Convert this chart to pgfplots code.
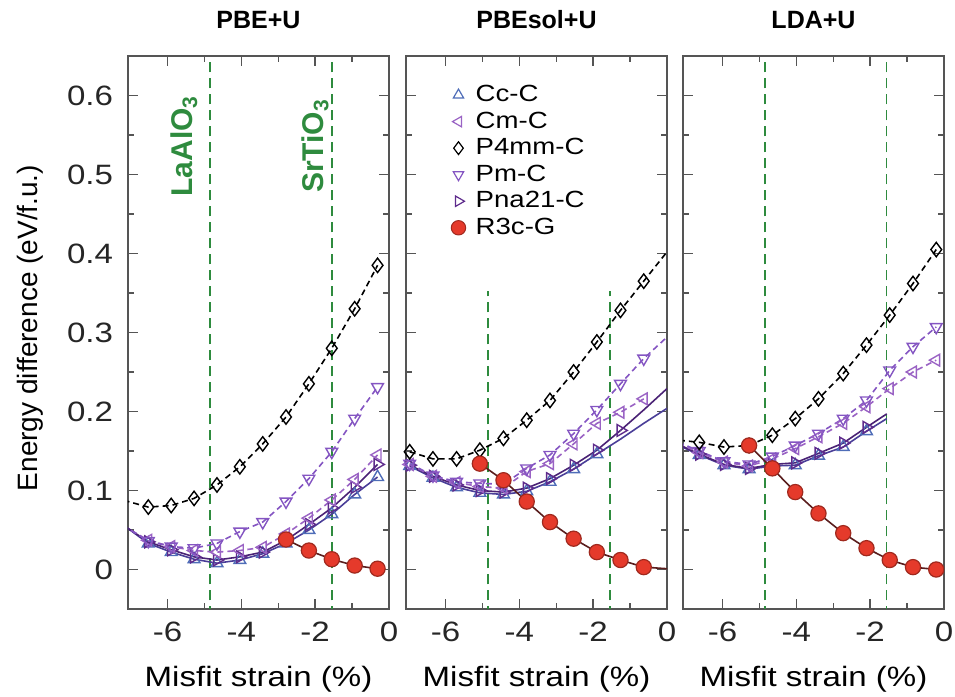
\documentclass[border=0pt]{standalone}
\usepackage{fontspec}
\setmainfont[FakeStretch=1.18]{Liberation Sans}
\newfontfamily\plainsans{Liberation Sans}
\usepackage{pgfplots}
\pgfplotsset{compat=1.18}

\definecolor{frame}{HTML}{555555}
\definecolor{ccblue}{HTML}{4F6DB8}
\definecolor{ccline}{HTML}{4A3E98}
\definecolor{cmpurp}{HTML}{9A63C4}
\definecolor{pmpurp}{HTML}{8455C2}
\definecolor{pnapurp}{HTML}{5E2B8C}
\definecolor{linepurp}{HTML}{4A2275}
\definecolor{r3cred}{HTML}{E53A2B}
\definecolor{r3cline}{HTML}{5A1E1E}
\definecolor{subgreen}{HTML}{2E8B3E}

\pgfplotsset{
  panel/.style={
    width=130.5pt, height=276.5pt, scale only axis,
    xmin=-7.07, xmax=0, ymin=-0.05, ymax=0.65,
    xtick={-6,-4,-2,0}, minor x tick num=1,
    ytick={0,0.1,0.2,0.3,0.4,0.5,0.6}, minor y tick num=1,
    tick align=inside, major tick length=5pt, minor tick length=3pt,
    axis line style={frame, line width=0.9pt},
    every tick/.style={frame, line width=0.7pt},
    tick label style={font=\fontsize{14}{16}\selectfont, text=black!85},
    /pgf/number format/assume math mode=true,
    xticklabel style={yshift=-3pt},
    yticklabel style={xshift=-4pt},
    xlabel={Misfit strain (\%)},
    xlabel style={at={(axis description cs:0.5,0)}, anchor=base, yshift=-39pt,
                  font=\fontsize{14}{16}\selectfont},
    title style={at={(axis description cs:0.5,1)}, anchor=base, yshift=8pt,
                 font=\plainsans\fontsize{12.5}{14}\selectfont\bfseries},
  },
  cc/.style={ccline, line width=0.8pt, mark=triangle, mark size=3.4pt,
             mark options={solid, fill=white, draw=ccblue, line width=0.7pt}},
  cm/.style={cmpurp, line width=0.8pt, dash pattern=on 3pt off 2pt, mark=triangle, mark size=3.4pt,
             mark options={solid, rotate=90, fill=white, draw=cmpurp, line width=0.7pt}},
  pm/.style={pmpurp, line width=0.8pt, dash pattern=on 3pt off 2pt, mark=triangle, mark size=3.4pt,
             mark options={solid, rotate=180, fill=white, draw=pmpurp, line width=0.7pt}},
  pna/.style={linepurp, line width=0.8pt, mark=triangle, mark size=3.4pt,
              mark options={solid, rotate=-90, fill=white, draw=pnapurp, line width=0.7pt}},
  p4/.style={black, line width=0.8pt, dash pattern=on 3pt off 2pt, mark=diamond, mark size=3.6pt,
             mark options={solid, fill=white, draw=black, line width=0.7pt}},
  r3c/.style={r3cline, line width=0.8pt, mark=*, mark size=3.8pt,
              mark options={solid, fill=r3cred, draw=r3cred!70!black, line width=0.6pt}},
  subline/.style={subgreen, line width=0.9pt, dash pattern=on 5pt off 3pt, forget plot},
}

\begin{document}
\begin{tikzpicture}
\useasboundingbox (0,0) rectangle (477.5pt,-348.5pt);

% ---------------- PBE+U ----------------
% first points lie left of xmin: only the line to the frame shows
\begin{axis}[panel, at={(64pt,-28pt)}, anchor=north west,
  title={PBE+U},
  ylabel={Energy difference (eV/f.u.)},
  ylabel style={at={(axis description cs:-0.345,0.508)}, anchor=base,
                font=\plainsans\fontsize{14}{16}\selectfont}]
\addplot[subline] coordinates {(-4.84,-0.1) (-4.84,0.7)};
\addplot[subline] coordinates {(-1.54,-0.1) (-1.54,0.7)};
\node[rotate=90, text=subgreen, font=\plainsans\fontsize{15}{17}\selectfont\bfseries]
  at (axis cs:-5.55,0.536) {LaAlO\textsubscript{3}};
\node[rotate=90, text=subgreen, font=\plainsans\fontsize{15}{17}\selectfont\bfseries]
  at (axis cs:-2.0,0.536) {SrTiO\textsubscript{3}};
\addplot[cc] coordinates {
  (-7.45,0.065) (-6.52,0.033) (-5.90,0.022) (-5.28,0.013) (-4.66,0.008) (-4.04,0.012)
  (-3.42,0.020) (-2.79,0.033) (-2.17,0.050) (-1.55,0.070) (-0.93,0.095) (-0.31,0.117)};
\addplot[pna] coordinates {
  (-7.45,0.064) (-6.52,0.035) (-5.90,0.025) (-5.28,0.016) (-4.66,0.012) (-4.04,0.016)
  (-3.42,0.022) (-2.79,0.037) (-2.17,0.057) (-1.55,0.078) (-0.93,0.104) (-0.31,0.133)};
\addplot[cm] coordinates {
  (-7.45,0.062) (-6.52,0.037) (-5.90,0.029) (-5.28,0.024) (-4.66,0.022) (-4.04,0.024)
  (-3.42,0.028) (-2.79,0.045) (-2.17,0.065) (-1.55,0.088) (-0.93,0.114) (-0.31,0.145)};
\addplot[pm] coordinates {
  (-7.45,0.063) (-6.52,0.036) (-5.90,0.029) (-5.28,0.027) (-4.66,0.033) (-4.04,0.048)
  (-3.42,0.060) (-2.79,0.086) (-2.17,0.115) (-1.55,0.149) (-0.93,0.191) (-0.31,0.231)};
\addplot[p4] coordinates {
  (-7.45,0.091) (-6.52,0.079) (-5.90,0.081) (-5.28,0.090) (-4.66,0.107) (-4.04,0.130)
  (-3.42,0.159) (-2.79,0.193) (-2.17,0.235) (-1.55,0.280) (-0.93,0.330) (-0.31,0.385)};
\addplot[r3c] coordinates {
  (-2.79,0.038) (-2.17,0.024) (-1.55,0.013) (-0.93,0.005) (-0.31,0.001)};
\end{axis}

% ---------------- PBEsol+U ----------------
\begin{axis}[panel, at={(203pt,-28pt)}, anchor=north west,
  title={PBEsol+U}, yticklabels={},
  legend style={at={(axis description cs:0.149,0.962)}, anchor=north west,
    draw=none, fill=none, font=\fontsize{11.7}{13.5}\selectfont,
    row sep=-0.4pt, cells={anchor=west},
    /tikz/every odd column/.append style={column sep=3pt}}]
\addlegendimage{only marks, mark=triangle, mark size=3pt, mark options={fill=white, draw=ccblue, line width=0.6pt}}
\addlegendentry{Cc-C}
\addlegendimage{only marks, mark=triangle, mark size=3pt, mark options={rotate=90, fill=white, draw=cmpurp, line width=0.6pt}}
\addlegendentry{Cm-C}
\addlegendimage{only marks, mark=diamond, mark size=3.2pt, mark options={fill=white, draw=black, line width=0.6pt}}
\addlegendentry{P4mm-C}
\addlegendimage{only marks, mark=triangle, mark size=3pt, mark options={rotate=180, fill=white, draw=pmpurp, line width=0.6pt}}
\addlegendentry{Pm-C}
\addlegendimage{only marks, mark=triangle, mark size=3pt, mark options={rotate=-90, fill=white, draw=pnapurp, line width=0.6pt}}
\addlegendentry{Pna21-C}
\addlegendimage{only marks, mark=*, mark size=3.6pt, mark options={fill=r3cred, draw=r3cred!70!black, line width=0.5pt}}
\addlegendentry{R3c-G}
\addplot[subline] coordinates {(-4.85,-0.1) (-4.85,0.352)};
\addplot[subline] coordinates {(-1.54,-0.1) (-1.54,0.352)};
% Cc-C and Pna21-C: marked points, then the curve runs on without marks
\addplot[cc, forget plot] coordinates {
  (-6.97,0.131) (-6.34,0.116) (-5.70,0.104) (-5.07,0.097) (-4.43,0.095) (-3.80,0.099)
  (-3.17,0.111) (-2.53,0.127) (-1.90,0.146)};
\addplot[cc, mark=none, forget plot] coordinates {
  (-1.90,0.146) (-1.26,0.165) (-0.63,0.185) (0.00,0.204)};
\addplot[pna, forget plot] coordinates {
  (-6.97,0.132) (-6.34,0.118) (-5.70,0.107) (-5.07,0.100) (-4.43,0.098) (-3.80,0.103)
  (-3.17,0.115) (-2.53,0.132) (-1.90,0.151) (-1.26,0.176)};
\addplot[pna, mark=none, forget plot] coordinates {
  (-1.26,0.176) (-0.63,0.202) (0.00,0.229)};
\addplot[cm, forget plot] coordinates {
  (-6.97,0.133) (-6.34,0.118) (-5.70,0.110) (-5.07,0.105) (-4.43,0.103) (-3.80,0.124)
  (-3.17,0.134) (-2.53,0.159) (-1.90,0.185) (-1.26,0.199) (-0.63,0.216)};
\addplot[pm, forget plot] coordinates {
  (-6.97,0.134) (-6.34,0.119) (-5.70,0.111) (-5.07,0.109) (-4.43,0.108) (-3.80,0.128)
  (-3.17,0.145) (-2.53,0.172) (-1.90,0.202) (-1.26,0.235) (-0.63,0.267) (0.32,0.308)};
\addplot[p4, forget plot] coordinates {
  (-6.97,0.149) (-6.34,0.140) (-5.70,0.140) (-5.07,0.151) (-4.43,0.166) (-3.80,0.189)
  (-3.17,0.214) (-2.53,0.250) (-1.90,0.288) (-1.26,0.328) (-0.63,0.365) (0.32,0.421)};
\addplot[r3c, forget plot] coordinates {
  (-5.07,0.134) (-4.43,0.113) (-3.80,0.086) (-3.17,0.060) (-2.53,0.039) (-1.90,0.022)
  (-1.26,0.012) (-0.63,0.003) (0.32,0.000)};
\end{axis}

% ---------------- LDA+U ----------------
\begin{axis}[panel, at={(341.5pt,-28pt)}, anchor=north west,
  title={LDA+U}, yticklabels={}]
\addplot[subline] coordinates {(-4.85,-0.1) (-4.85,0.7)};
\addplot[subline] coordinates {(-1.56,-0.1) (-1.56,0.7)};
\addplot[cc] coordinates {
  (-7.45,0.163) (-6.63,0.145) (-5.96,0.132) (-5.28,0.127) (-4.65,0.131) (-4.03,0.132)
  (-3.40,0.144) (-2.73,0.155) (-2.10,0.175)};
\addplot[cc, mark=none] coordinates {(-2.10,0.175) (-1.55,0.191)};
\addplot[pna] coordinates {
  (-7.45,0.164) (-6.63,0.146) (-5.96,0.133) (-5.28,0.128) (-4.65,0.133) (-4.03,0.135)
  (-3.40,0.147) (-2.73,0.160) (-2.10,0.180)};
\addplot[pna, mark=none] coordinates {(-2.10,0.180) (-1.55,0.197)};
\addplot[cm] coordinates {
  (-7.45,0.165) (-6.63,0.148) (-5.96,0.136) (-5.28,0.131) (-4.65,0.140) (-4.03,0.153)
  (-3.40,0.168) (-2.73,0.185) (-2.10,0.206) (-1.47,0.229) (-0.84,0.250) (-0.21,0.265)};
\addplot[pm] coordinates {
  (-7.45,0.166) (-6.63,0.150) (-5.96,0.137) (-5.28,0.133) (-4.65,0.143) (-4.03,0.157)
  (-3.40,0.172) (-2.73,0.191) (-2.10,0.214) (-1.47,0.252) (-0.84,0.282) (-0.21,0.307)};
\addplot[p4] coordinates {
  (-7.45,0.165) (-6.63,0.161) (-5.96,0.155) (-5.28,0.157) (-4.65,0.170) (-4.03,0.191)
  (-3.40,0.216) (-2.73,0.248) (-2.10,0.284) (-1.47,0.322) (-0.84,0.362) (-0.21,0.405)};
\addplot[r3c] coordinates {
  (-5.28,0.157) (-4.65,0.128) (-4.03,0.098) (-3.40,0.071) (-2.73,0.046) (-2.10,0.027)
  (-1.47,0.012) (-0.84,0.003) (-0.21,0.000)};
\end{axis}
\end{tikzpicture}
\end{document}
